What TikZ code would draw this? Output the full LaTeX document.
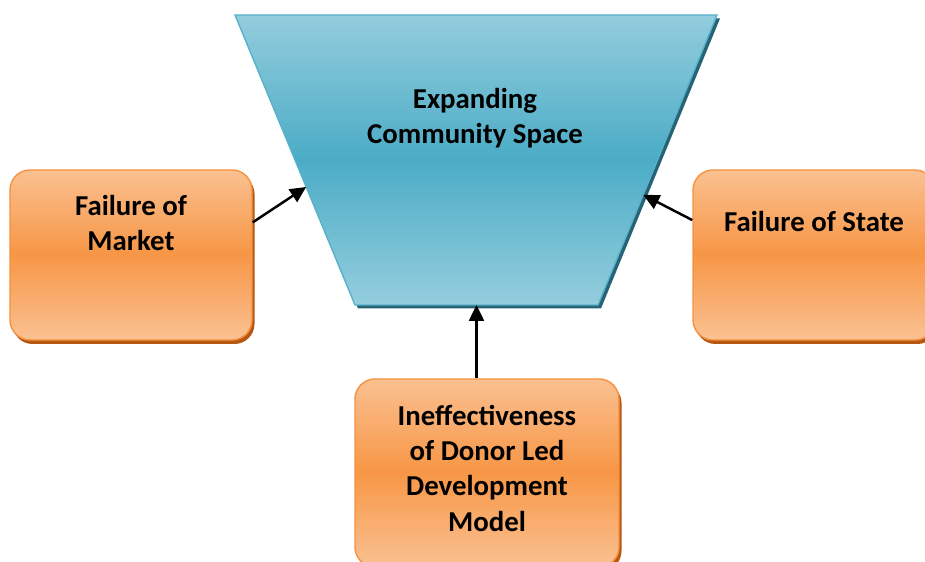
\documentclass[tikz,border=0pt]{standalone}
\usepackage{fontspec}
\setmainfont{Carlito}
\usetikzlibrary{arrows.meta, positioning, calc}
\definecolor{peach}{RGB}{250,192,144}
\definecolor{orangemid}{RGB}{247,150,70}
\definecolor{orangeline}{RGB}{246,146,64}
\definecolor{orangeshadow}{RGB}{182,87,18}
\definecolor{tealtop}{RGB}{147,205,221}
\definecolor{tealmid}{RGB}{75,172,198}
\definecolor{tealline}{RGB}{90,178,202}
\definecolor{tealshadow}{RGB}{38,100,117}
\tikzset{%
	band fill/.style 2 args={
		path picture={
			\foreach \i in {0,...,79} {
				\pgfmathsetmacro\p{abs(\i/79-0.5)*200}
				\fill[sharp corners, #1!\p!#2]
					($(path picture bounding box.north west)!\i/80!(path picture bounding box.south west)+(-0.1,0.01)$)
					rectangle
					($(path picture bounding box.north east)!\i/80+1/80!(path picture bounding box.south east)+(0.1,-0.01)$);
			}
		}
	},
	cause box/.style={
		rectangle,
		rounded corners=0.4cm,
		draw=orangeline,
		line width=0.8pt,
		band fill={peach}{orangemid},
		preaction={draw=none, fill=orangeshadow, transform canvas={shift={(0.05,-0.08)}}},
		minimum width=4.84cm,
		minimum height=3.4cm
	},
	caption/.style={
		draw=none, fill=none,
		align=center,
		inner sep=0pt,
		font=\fontsize{16.4}{20}\selectfont\bfseries
	},
}

\begin{document}
\begin{tikzpicture}[
			push/.style={line width=1.4pt, -{Triangle[length=3.2mm, width=3mm]}}
			]
			\useasboundingbox (0,0) rectangle (18.5,11.24);
			\clip (0,0) rectangle (18.5,11.24);
			
			% Funnel
			\coordinate (tl) at (4.70,10.94);
			\coordinate (tr) at (14.34,10.94);
			\coordinate (br) at (11.96,5.14);
			\coordinate (bl) at (7.10,5.14);
			\path[draw=tealline, line width=0.8pt,
				band fill={tealtop}{tealmid},
				preaction={draw=none, fill=tealshadow, transform canvas={shift={(0.06,-0.07)}}}]
				(tl) -- (tr) -- (br) -- (bl) -- cycle;
			\node[caption] (space) at (9.5,8.87) {Expanding\\Community Space};
			
			% Points on the funnel where the arrows land
			\coordinate (space-w) at ($(tl)!0.593!(bl)$);
			\coordinate (space-e) at ($(tr)!0.62!(br)$);
			\coordinate (space-s) at ($(bl)!0.5!(br)$);
			
			% Causes
			\node[cause box] (market) at (2.62,6.14) {};
			\node[caption] at ([yshift=-1.07cm]market.north) {Failure of\\Market};
			
			\node[cause box] (state) at (16.28,6.14) {};
			\node[caption] at ([yshift=-1.04cm]state.north) {Failure of State};
			
			\node[cause box, minimum width=5.28cm, minimum height=3.76cm] (donor) at (9.74,1.78) {};
			\node[caption] at ([yshift=-1.8cm]donor.north) {Ineffectiveness\\of Donor Led\\Development\\Model};
			
			% Arrows
			\draw[push] (market.15.7) -- (space-w);
			\draw[push] (state.164.7) -- (space-e);
			\draw[push] (donor.north -| space-s) -- (space-s);
			
		\end{tikzpicture}
\end{document}
